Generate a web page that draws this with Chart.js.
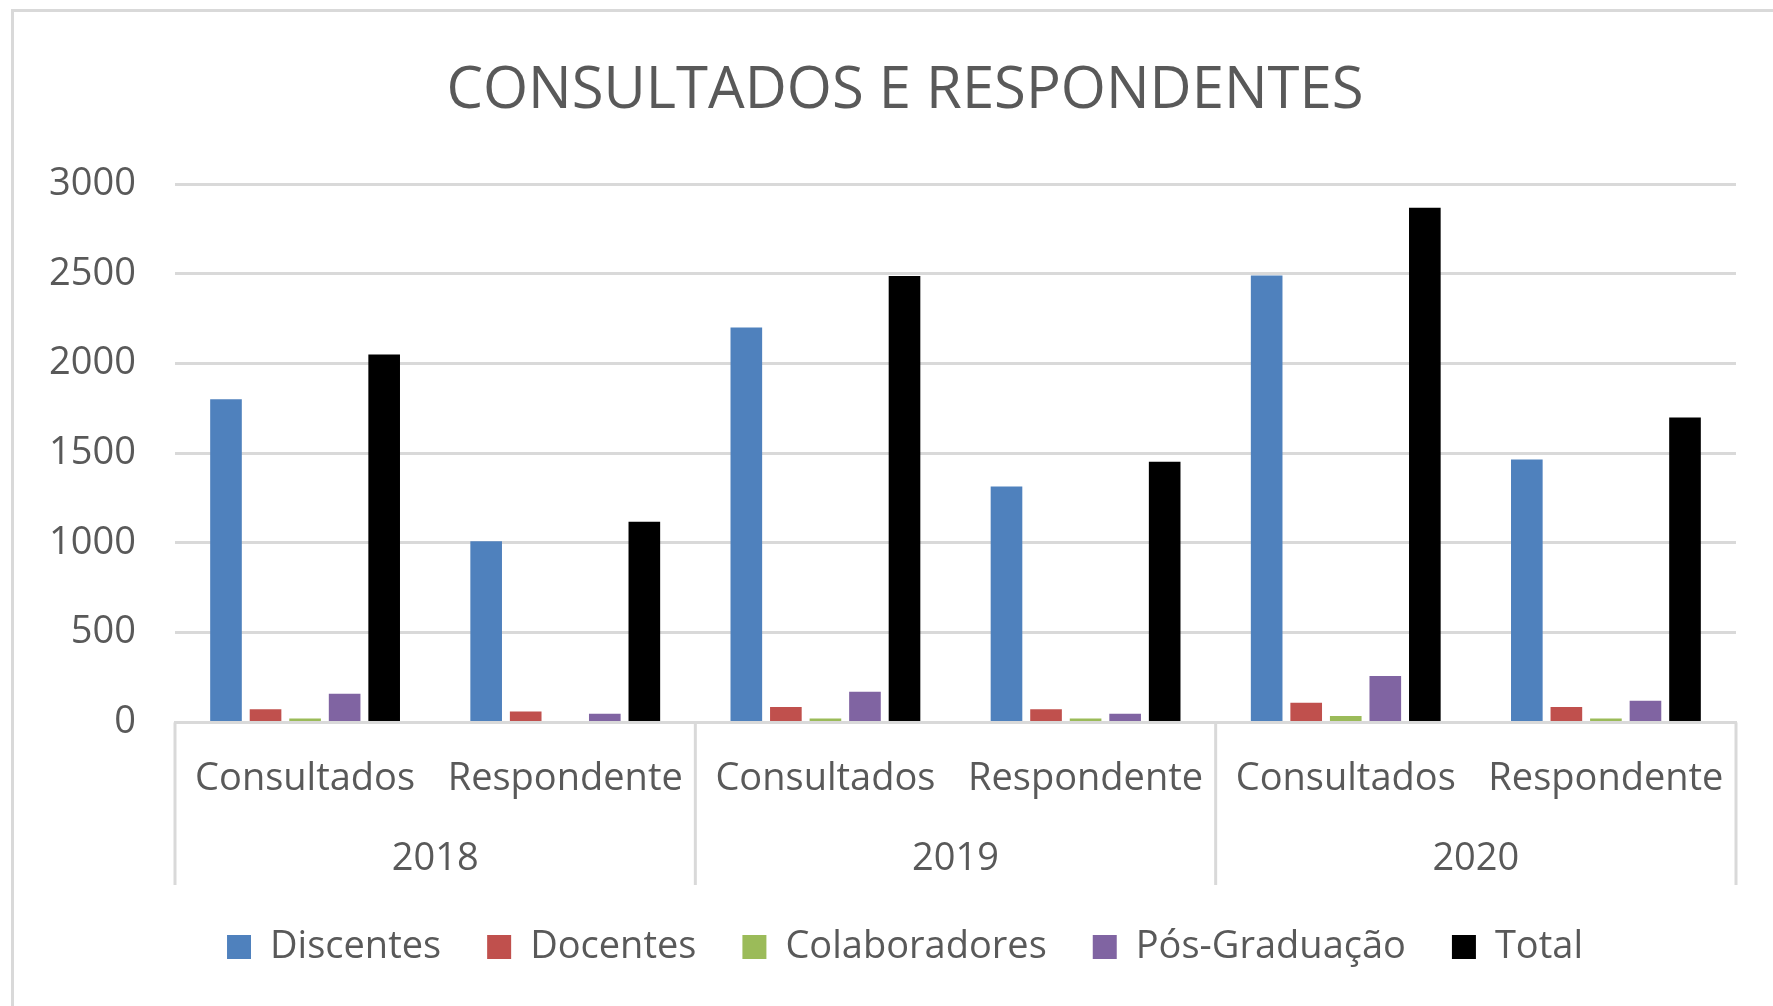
<!DOCTYPE html>
<html>
<head>
<meta charset="utf-8">
<script src="https://cdn.jsdelivr.net/npm/chart.js@4.4.1/dist/chart.umd.min.js"></script>
<style>
  html, body { margin: 0; padding: 0; background: #ffffff; overflow: hidden; width: 1773px; height: 1006px; }
  #frame { position: absolute; left: 11px; top: 9px; width: 2000px; height: 2000px;
           border-left: 3px solid #d9d9d9; border-top: 3px solid #d9d9d9; box-sizing: border-box; }
  #wrap { position: absolute; left: 12px; top: 10px; width: 1786px; height: 996px; }
</style>
</head>
<body>
<div id="frame"></div>
<div id="wrap"><canvas id="c"></canvas></div>
<script>
const categories = ['Consultados', 'Respondente', 'Consultados', 'Respondente', 'Consultados', 'Respondente'];
const years = ['2018', '2019', '2020'];
const discentes = [1800, 1010, 2200, 1315, 2490, 1465];
const docentes = [73, 61, 86, 73, 110, 86];
const colaboradores = [22, 0, 22, 22, 35, 22];
const posGraduacao = [160, 48, 171, 48, 259, 121];
const total = [2050, 1118, 2488, 1453, 2867, 1699];
const yTicks = [0, 500, 1000, 1500, 2000, 2500, 3000];

const FONT = "'Open Sans', 'DejaVu Sans', sans-serif";
const TEXT = '#595959';
const GRID = '#d9d9d9';

const ds = (label, data, color) => ({
  label, data, backgroundColor: color, borderWidth: 0,
  categoryPercentage: 0.76, barPercentage: 0.8, xAxisID: 'x', yAxisID: 'y'
});

// vertical separators between year groups, positioned from the year axis scale
const groupSeparators = {
  id: 'groupSeparators',
  afterDraw(chart) {
    const xs = chart.scales.x, x2 = chart.scales.x2, ctx = chart.ctx;
    ctx.save();
    ctx.strokeStyle = GRID;
    ctx.lineWidth = 3;
    for (let i = 0; i <= years.length; i++) {
      const px = x2.getPixelForValue(i - 0.5);
      ctx.beginPath();
      ctx.moveTo(px, xs.top);
      ctx.lineTo(px, x2.bottom + 3);
      ctx.stroke();
    }
    ctx.restore();
  }
};

new Chart(document.getElementById('c'), {
  type: 'bar',
  data: {
    labels: categories,
    datasets: [
      ds('Discentes', discentes, '#4F81BD'),
      ds('Docentes', docentes, '#C0504D'),
      ds('Colaboradores', colaboradores, '#9BBB59'),
      ds('Pós-Graduação', posGraduacao, '#8064A2'),
      ds('Total', total, '#000000')
    ]
  },
  plugins: [groupSeparators],
  options: {
    responsive: true,
    maintainAspectRatio: false,
    animation: false,
    layout: { padding: { top: 0, left: 0, right: 0, bottom: 30 } },
    plugins: {
      title: {
        display: true,
        text: 'CONSULTADOS E RESPONDENTES',
        color: TEXT,
        font: { family: FONT, size: 58, weight: 'normal' },
        padding: { top: 47, bottom: 57.4 }
      },
      legend: {
        position: 'bottom',
        labels: {
          color: TEXT,
          font: { family: FONT, size: 38 },
          boxWidth: 24,
          boxHeight: 24,
          padding: 46
        }
      },
      tooltip: { enabled: false }
    },
    scales: {
      y: {
        position: 'left',
        min: 0, max: 3000,
        afterBuildTicks: s => { s.ticks = yTicks.map(v => ({ value: v })); },
        afterFit: s => { s.width = 163; },
        border: { display: false },
        grid: { color: GRID, lineWidth: 3, drawTicks: false },
        ticks: { color: TEXT, font: { family: FONT, size: 38 }, padding: 39, callback: v => String(v) }
      },
      yr: {
        type: 'linear',
        position: 'right',
        display: true,
        afterFit: s => { s.width = 62; },
        border: { display: false },
        grid: { display: false },
        ticks: { display: false }
      },
      x: {
        type: 'category',
        position: 'bottom',
        offset: true,
        weight: 0,
        border: { display: true, color: GRID, width: 3 },
        grid: { display: true, drawOnChartArea: false, drawTicks: false, color: 'rgba(0,0,0,0)' },
        ticks: { color: TEXT, font: { family: FONT, size: 38 }, padding: 34.2, maxRotation: 0, autoSkip: false }
      },
      x2: {
        type: 'category',
        labels: years,
        position: 'bottom',
        offset: true,
        weight: 1,
        border: { display: false },
        grid: { display: true, drawOnChartArea: false, drawTicks: false, color: 'rgba(0,0,0,0)' },
        ticks: { color: TEXT, font: { family: FONT, size: 38 }, padding: 0, maxRotation: 0, autoSkip: false }
      }
    }
  }
});
</script>
</body>
</html>
